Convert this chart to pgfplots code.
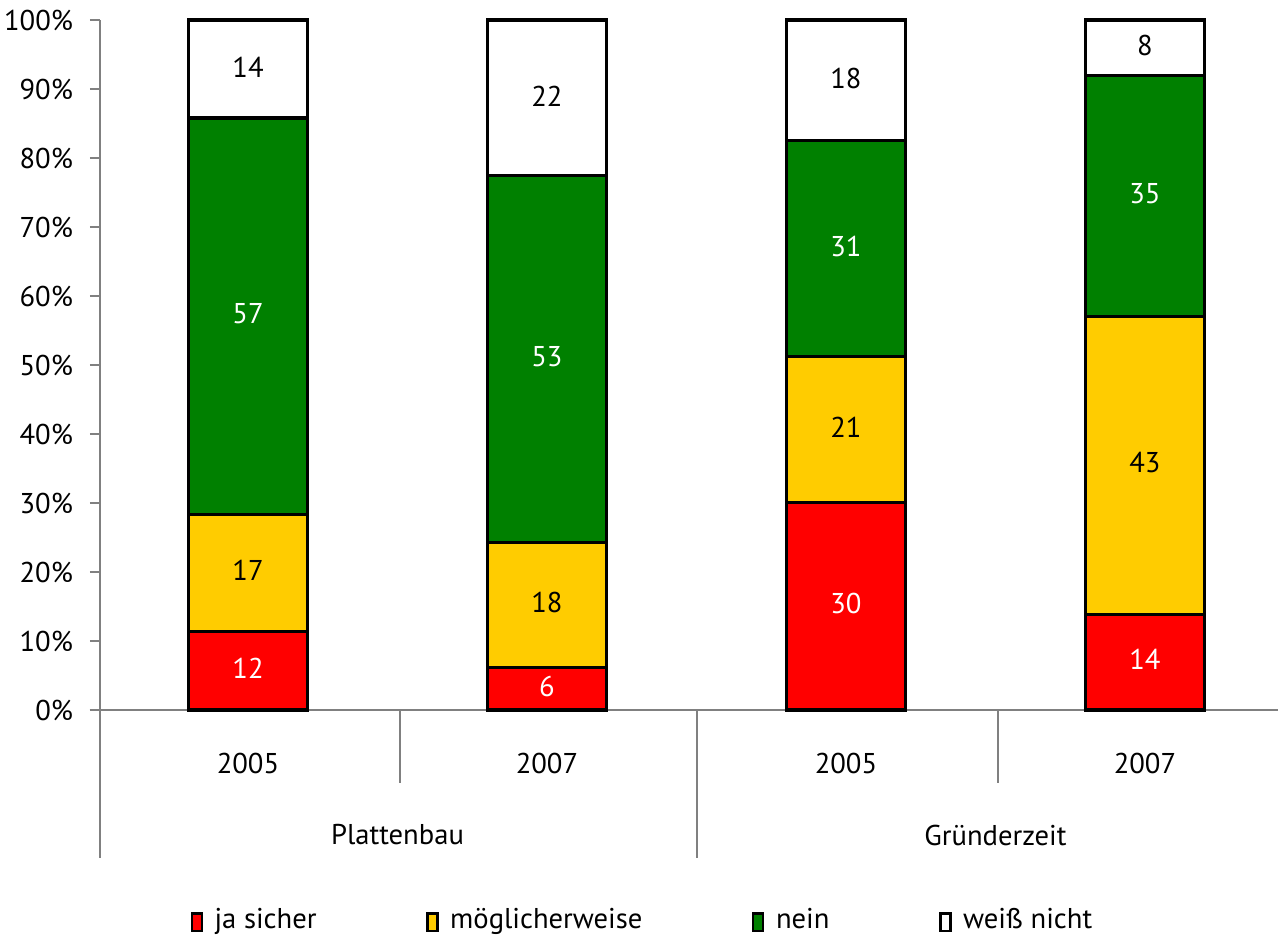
\documentclass[border=0pt]{standalone}
\usepackage{pgfplots}
\pgfplotsset{compat=1.18}
\usepackage{pgfplotstable}
\usepackage{fontspec}
\setmainfont{PT Sans}
\definecolor{cred}{HTML}{FF0000}
\definecolor{cyel}{HTML}{FFCC00}
\definecolor{cgreen}{HTML}{008000}
\definecolor{axgray}{HTML}{808080}
\newcommand\cf{\fontsize{10.3}{12.4}\selectfont}

% segment heights in percent of each bar
\pgfplotstableread{
x ja moeg nein weiss
0 11.4 17.0 57.4 14.2
1 6.2 18.1 53.2 22.5
2 30.1 21.1 31.3 17.5
3 13.9 43.1 35.0 8.0
}\shares

% label positions (segment centres) and label texts
\pgfplotstableread{
x y lab
0 6.0 12
1 3.4 6
2 15.4 30
3 7.3 14
0 57.4 57
1 51.2 53
2 67.2 31
3 74.8 35
}\whitelabels
\pgfplotstableread{
x y lab
0 20.2 17
1 15.6 18
2 41.0 21
3 35.8 43
0 93.2 14
1 89.0 22
2 91.5 18
3 96.3 8
}\blacklabels

\pgfplotsset{
  common/.style={
    scale only axis, width=424.08pt, height=248.4pt,
    xmin=-0.495, xmax=3.445, ymin=0, ymax=100,
    clip=false, at={(0,0)}, anchor=south west,
  }
}

\begin{document}
\cf
\begin{tikzpicture}
\begin{axis}[common,
  ybar stacked, bar width=0.4,
  axis y line=left, axis x line=bottom,
  axis line style={axgray, line width=0.7pt, -},
  ytick={0,10,...,100},
  yticklabel={\pgfmathprintnumber{\tick}\%},
  /pgf/number format/assume math mode=true,
  y tick style={axgray, line width=0.7pt},
  tick align=outside, major tick length=3.6pt,
  yticklabel style={xshift=-2.5pt, font=\cf},
  xtick={0,1,2,3}, xticklabels={2005,2007,2005,2007},
  x tick style={draw=none},
  xticklabel style={anchor=center, yshift=-15.5pt, font=\cf},
  extra x ticks={0.5,2.5},
  extra x tick labels={Plattenbau,Gründerzeit},
  extra x tick style={x tick style={draw=none}, xticklabel style={yshift=-25.9pt}},
  legend style={at={(0.462,-0.305)}, anchor=center, draw=none, font=\cf,
    legend columns=4,
    /tikz/every even column/.append style={column sep=37.5pt}},
  legend image code/.code={\draw[#1, draw=black, line width=0.8pt] (0pt,-3.8pt) rectangle (3.6pt,2.5pt);
     \path[draw=none, fill=none] (0pt,0pt) -- (6.2pt,0pt);},
]
\addplot[fill=cred, draw=black, line width=1.1pt] table[x=x, y=ja] {\shares};
\addlegendentry{ja sicher}
\addplot[fill=cyel, draw=black, line width=1.1pt] table[x=x, y=moeg] {\shares};
\addlegendentry{möglicherweise}
\addplot[fill=cgreen, draw=black, line width=1.1pt] table[x=x, y=nein] {\shares};
\addlegendentry{nein}
\addplot[fill=white, draw=black, line width=1.1pt] table[x=x, y=weiss] {\shares};
\addlegendentry{weiß nicht}
\draw[axgray, line width=0.7pt] (axis cs:-0.53,0) -- (axis cs:-0.495,0);
\draw[axgray, line width=0.7pt] (axis cs:-0.495,0) -- (axis cs:-0.495,-21.45);
\draw[axgray, line width=0.7pt] (axis cs:1.502,0) -- (axis cs:1.502,-21.45);
\draw[axgray, line width=0.7pt] (axis cs:0.508,0) -- (axis cs:0.508,-10.58);
\draw[axgray, line width=0.7pt] (axis cs:2.508,0) -- (axis cs:2.508,-10.58);
\end{axis}
\begin{axis}[common, hide axis]
\addplot[only marks, mark=none, nodes near coords, point meta=explicit symbolic,
  every node near coord/.style={anchor=center, text=white, font=\cf}]
  table[x=x, y=y, meta=lab] {\whitelabels};
\addplot[only marks, mark=none, nodes near coords, point meta=explicit symbolic,
  every node near coord/.style={anchor=center, text=black, font=\cf}]
  table[x=x, y=y, meta=lab] {\blacklabels};
\end{axis}
\pgfresetboundingbox
\path (-36pt,-81.72pt) rectangle (424.08pt,255.6pt);
\end{tikzpicture}
\end{document}
